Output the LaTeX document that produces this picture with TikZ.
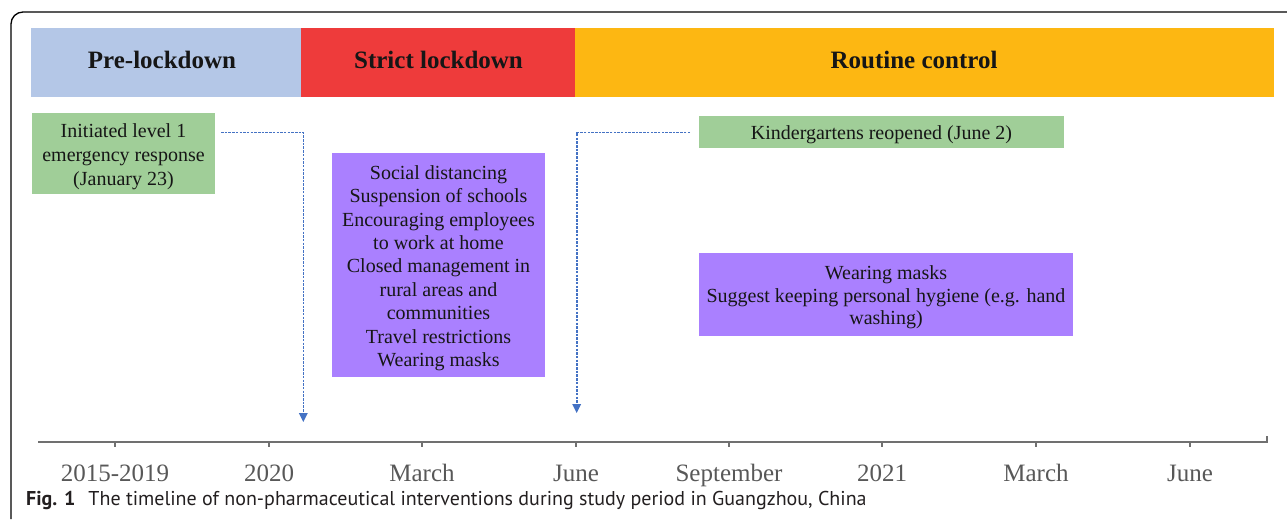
\documentclass[tikz,border=0pt]{standalone}
\usepackage{fontspec}
\setmainfont{Liberation Serif}
\newfontfamily\capfont{PT Sans}
\usetikzlibrary{arrows.meta}

\definecolor{prelock}{RGB}{180,199,231}
\definecolor{strict}{RGB}{238,59,59}
\definecolor{routine}{RGB}{253,183,18}
\definecolor{eventgreen}{RGB}{160,206,152}
\definecolor{measure}{RGB}{170,128,255}
\definecolor{pointer}{RGB}{68,114,196}
\definecolor{axisgray}{RGB}{112,112,112}
\definecolor{labelgray}{RGB}{88,88,88}
\definecolor{ink}{RGB}{22,22,22}
\definecolor{capink}{RGB}{35,31,32}

% taller first line so the text block sits a little lower in its box
\newcommand{\firstline}{\rule{0pt}{20pt}}

\begin{document}
\begin{tikzpicture}[x=1pt,y=-1pt,
  bar/.style={draw=none, inner sep=0pt, minimum height=69pt},
  phaselabel/.style={anchor=base, inner sep=0pt, text=ink,
    font=\bfseries\fontsize{25}{28}\selectfont},
  eventbox/.style={fill=eventgreen, inner sep=0pt, align=center, text=ink,
    font=\fontsize{20}{24}\selectfont},
  measurebox/.style={fill=measure, inner sep=0pt, align=center, text=ink,
    font=\fontsize{20}{23.4}\selectfont},
  pointerline/.style={draw=pointer, line width=1.6pt,
    dash pattern=on 2.5pt off 1.2pt, -{Triangle[length=9pt,width=8.5pt]}},
  axisline/.style={draw=axisgray, line width=2pt},
  ticklabel/.style={anchor=base, inner sep=0pt, text=labelgray,
    font=\fontsize{25}{28}\selectfont},
  frameline/.style={draw=black, line width=1.3pt, rounded corners=12pt}]

\useasboundingbox (0,0) rectangle (1287,523);

% outer frame: left edge and top edge with a rounded corner
\draw[frameline] (11,519) -- (11,12) -- (1287,12);

% phase bars
\node[bar, fill=prelock, minimum width=270pt] (pre) at (166,62.5) {};
\node[bar, fill=strict, minimum width=274pt] (lock) at (438,62.5) {};
\node[bar, fill=routine, minimum width=699pt] (routine) at (924.5,62.5) {};
\node[phaselabel] (prelabel) at (162,68) {Pre-lockdown};
\node[phaselabel] (locklabel) at (438.5,68) {Strict lockdown};
\node[phaselabel] (routinelabel) at (914,68) {Routine control};

% events
\node[eventbox, minimum width=183pt, minimum height=81pt] (jan23) at (123.5,153.5)
  {\firstline Initiated level 1\\emergency response\\(January 23)};
\node[eventbox, minimum width=365pt, minimum height=32pt] (june2) at (881.5,132)
  {\firstline Kindergartens reopened (June 2)};

% measures
\node[measurebox, minimum width=213pt, minimum height=224pt] (strictmeasures) at (438.5,265)
  {\firstline Social distancing\\Suspension of schools\\Encouraging employees\\to work at home\\
   Closed management in\\rural areas and\\communities\\Travel restrictions\\Wearing masks};
\node[measurebox, font=\fontsize{20}{22.5}\selectfont,
      minimum width=374pt, minimum height=83pt] (routinemeasures) at (886,294.5)
  {\firstline Wearing masks\\Suggest keeping personal hygiene (e.g. hand\\washing)};

% timeline axis
\draw[axisline] (38,441.5) -- (1267,441.5) -- (1267,436);
\foreach \x/\n/\lab in {115/a/2015-2019, 269/b/2020, 422/c/March, 576/d/June,
                        729/e/September, 882/f/2021, 1036/g/March, 1190/h/June}{
  \coordinate (tick\n) at (\x,441.5);
  \draw[axisline] (tick\n) -- ++(0,5.5);
  \node[ticklabel] (label\n) at (\x,481) {\lab};
}

% pointers from events down to the timeline
\coordinate (janstart) at (221,132.5);
\coordinate (janend) at (303.3,422);
\coordinate (junestart) at (690,132.5);
\coordinate (juneend) at (576.7,413);
\draw[pointerline] (janstart) -| (janend);
\draw[pointerline] (junestart) -| (juneend);

% caption
\node[anchor=base west, inner sep=0pt, text=capink,
      font=\capfont\fontsize{20}{22}\selectfont] (caption) at (26,505)
  {\textbf{Fig. 1}\hspace{13pt}The timeline of non-pharmaceutical interventions during study period in Guangzhou, China};
\end{tikzpicture}
\end{document}
